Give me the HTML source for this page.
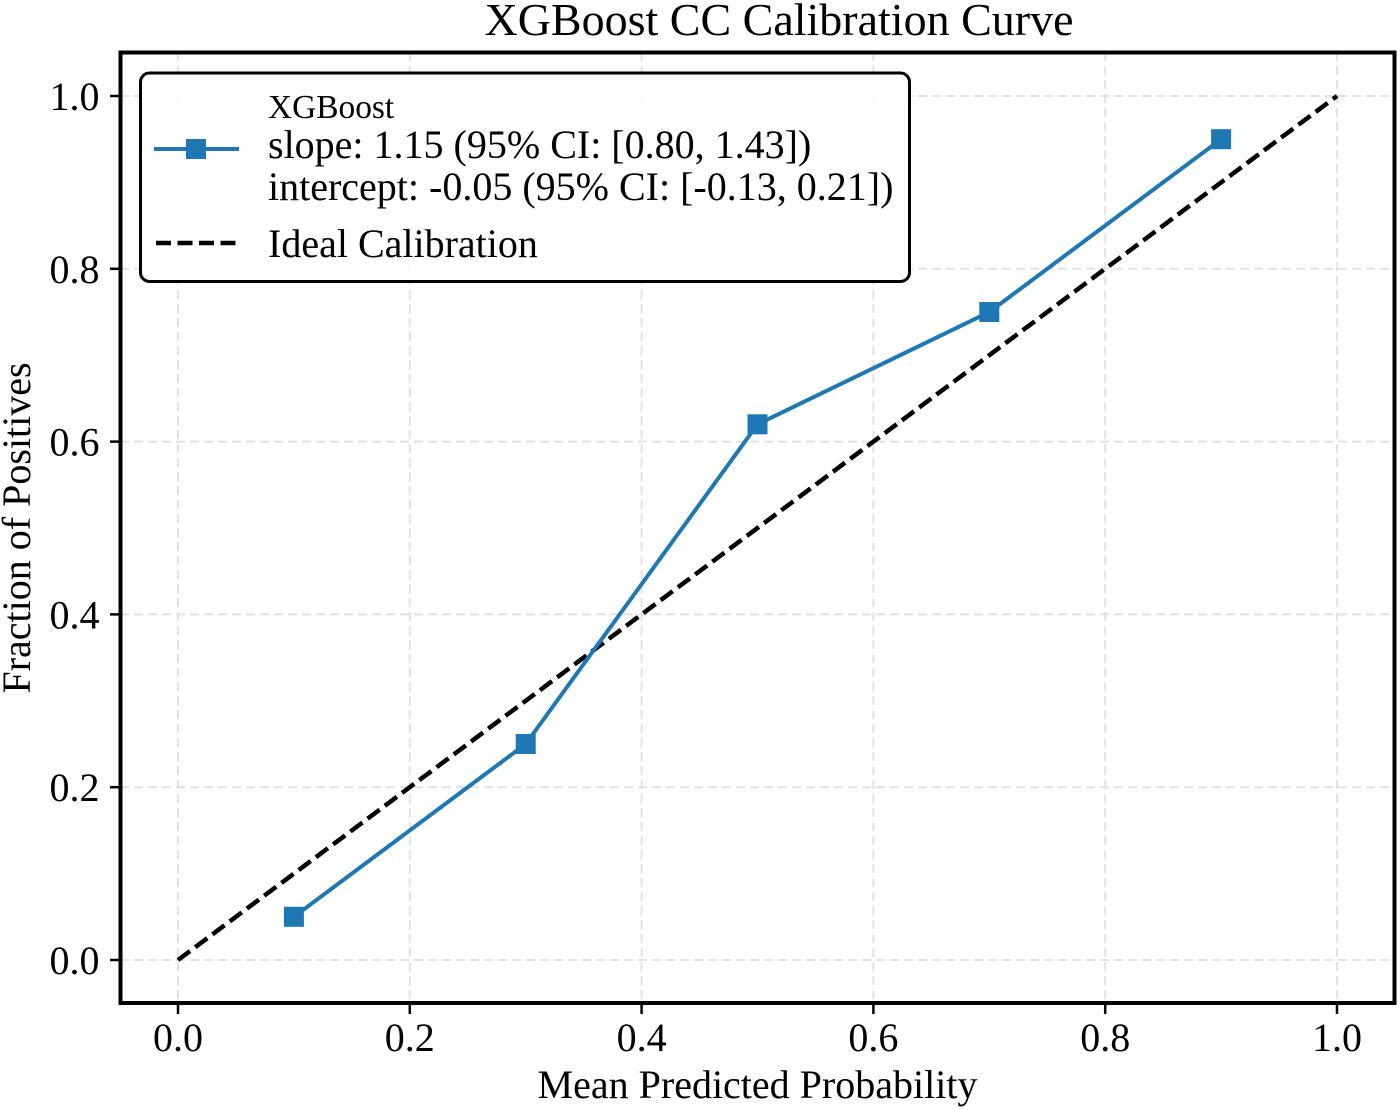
<!DOCTYPE html>
<html>
<head>
<meta charset="utf-8">
<title>XGBoost CC Calibration Curve</title>
<style>
html,body{margin:0;padding:0;background:#fff;width:1400px;height:1110px;overflow:hidden}
svg{display:block}
text{font-family:"Liberation Serif",serif;fill:#000}
</style>
</head>
<body>
<svg id="chart" width="1400" height="1110" viewBox="0 0 1400 1110" xmlns="http://www.w3.org/2000/svg"></svg>
<script>
const xTickValues = [0, 0.2, 0.4, 0.6, 0.8, 1.0];
const yTickValues = [0, 0.2, 0.4, 0.6, 0.8, 1.0];
const xTickLabels = ['0.0', '0.2', '0.4', '0.6', '0.8', '1.0'];
const yTickLabels = ['0.0', '0.2', '0.4', '0.6', '0.8', '1.0'];
const modelPredicted = [0.1, 0.3, 0.5, 0.7, 0.9];
const modelObserved = [0.05, 0.25, 0.62, 0.75, 0.95];
const idealPredicted = [0, 1];
const idealObserved = [0, 1];

const NS = 'http://www.w3.org/2000/svg';
const svg = document.getElementById('chart');
const xScale = v => 178 + v * (1337 - 178);
const yScale = v => 960 - v * (960 - 96);
const BLUE = '#1f77b4';

function make(tag, attrs, text) {
  const el = document.createElementNS(NS, tag);
  for (const k in attrs) el.setAttribute(k, attrs[k]);
  if (text !== undefined) el.textContent = text;
  svg.appendChild(el);
  return el;
}

/* grid */
xTickValues.forEach(v => {
  const el = make('line', {x1: xScale(v), x2: xScale(v), y1: 52, y2: 1003, stroke: '#e2e2e2', 'stroke-width': 2, 'stroke-dasharray': '9 5'});
  
  
});
yTickValues.forEach(v => {
  const el = make('line', {x1: 120, x2: 1394, y1: yScale(v), y2: yScale(v), stroke: '#e2e2e2', 'stroke-width': 2, 'stroke-dasharray': '9 5'});
  
  
});

/* ideal line */
const ideal = make('polyline', {
  points: idealPredicted.map((v, i) => xScale(v) + ',' + yScale(idealObserved[i])).join(' '),
  fill: 'none', stroke: '#000', 'stroke-width': 4.5, 'stroke-dasharray': '15 6.5'
});



/* model line */
const modelLine = make('polyline', {
  points: modelPredicted.map((v, i) => xScale(v) + ',' + yScale(modelObserved[i])).join(' '),
  fill: 'none', stroke: BLUE, 'stroke-width': 4
});



modelPredicted.forEach((v, i) => {
  const el = make('rect', {x: xScale(v) - 10, y: yScale(modelObserved[i]) - 10, width: 20, height: 20, fill: BLUE});
  
  
});

/* spines */
const frame = make('rect', {x: 120.5, y: 52.5, width: 1274, height: 950.5, fill: 'none', stroke: '#000', 'stroke-width': 4});



/* ticks + labels */
xTickValues.forEach((v, i) => {
  const t = make('line', {x1: xScale(v), x2: xScale(v), y1: 1003, y2: 1014, stroke: '#000', 'stroke-width': 2.5});
  
  
  const l = make('text', {x: xScale(v), y: 1051, 'text-anchor': 'middle', 'font-size': 40}, xTickLabels[i]);
  
  
});
yTickValues.forEach((v, i) => {
  const t = make('line', {x1: 110, x2: 120, y1: yScale(v), y2: yScale(v), stroke: '#000', 'stroke-width': 2.5});
  
  
  const l = make('text', {x: 99.5, y: yScale(v) + 14, 'text-anchor': 'end', 'font-size': 40}, yTickLabels[i]);
  
  
});

/* titles */
const title = make('text', {x: 779, y: 35, 'text-anchor': 'middle', 'font-size': 46}, 'XGBoost CC Calibration Curve');


const xTitle = make('text', {x: 757.5, y: 1098, 'text-anchor': 'middle', 'font-size': 40}, 'Mean Predicted Probability');


const yTitle = make('text', {x: 0, y: 0, transform: 'translate(30 528) rotate(-90)', 'text-anchor': 'middle', 'font-size': 40}, 'Fraction of Positives');



/* legend */
const legendBox = make('rect', {x: 140.5, y: 73, width: 769, height: 208.5, rx: 9, ry: 9, fill: '#fff', 'fill-opacity': 0.92, stroke: '#000', 'stroke-width': 3});


const legLine = make('line', {x1: 154, x2: 239, y1: 149, y2: 149, stroke: BLUE, 'stroke-width': 4});


const legMarker = make('rect', {x: 186, y: 139, width: 20, height: 20, fill: BLUE});


const legDash = make('line', {x1: 156, x2: 237, y1: 243, y2: 243, stroke: '#000', 'stroke-width': 4.5, 'stroke-dasharray': '15 6.5'});



const leg1 = make('text', {x: 268, y: 118, 'font-size': 33.4}, 'XGBoost');


const leg2 = make('text', {x: 268, y: 158, 'font-size': 40}, 'slope: 1.15 (95% CI: [0.80, 1.43])');


const leg3 = make('text', {x: 268, y: 200, 'font-size': 40}, 'intercept: -0.05 (95% CI: [-0.13, 0.21])');


const leg4 = make('text', {x: 268, y: 257, 'font-size': 40}, 'Ideal Calibration');


</script>
</body>
</html>
